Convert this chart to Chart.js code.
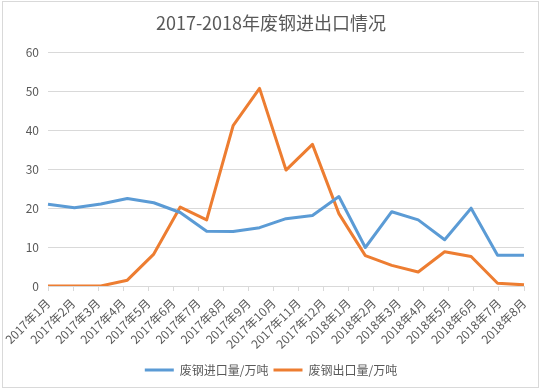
<!DOCTYPE html>
<html>
<head>
<meta charset="utf-8">
<script src="https://cdn.jsdelivr.net/npm/chart.js@4"></script>
<style>
  body { margin: 0; background: #fff; }
</style>
</head>
<body>
<canvas id="graficoAcero" width="544" height="392"></canvas>
<script>
// etiquetas del eje x (20 meses)
var meses = [
  "2017年1月", "2017年2月", "2017年3月", "2017年4月", "2017年5月",
  "2017年6月", "2017年7月", "2017年8月", "2017年9月", "2017年10月",
  "2017年11月", "2017年12月", "2018年1月", "2018年2月", "2018年3月",
  "2018年4月", "2018年5月", "2018年6月", "2018年7月", "2018年8月",
];
// la linea del original tiene 19 vertices repartidos a lo ancho
var puntos = [
  "1", "2", "3", "4", "5", "6", "7", "8", "9", "10",
  "11", "12", "13", "14", "15", "16", "17", "18", "19",
];
var importacion = [
  21.0, 20.1, 21.1, 22.5, 21.4, 18.9, 14.1, 14.0, 15.0, 17.3,
  18.1, 23.0, 9.9, 19.1, 17.0, 11.9, 20.0, 7.9, 7.9,
];
var exportacion = [
  0, 0, 0, 1.5, 8.2, 20.3, 17.0, 41.2, 50.8, 29.8,
  36.4, 18.6, 7.8, 5.3, 3.6, 8.8, 7.6, 0.7, 0.3,
];
var ticksY = [0, 10, 20, 30, 40, 50, 60];

var fuente = '"Noto Sans CJK SC", "Noto Sans", sans-serif';
var gris = "#595959";

// marco gris alrededor del grafico
const marco = {
  id: "marco",
  beforeDraw(chart) {
    const c = chart.ctx;
    c.save();
    c.fillStyle = "#fff";
    c.fillRect(0, 0, chart.width, chart.height);
    c.strokeStyle = "#d9d9d9";
    c.lineWidth = 1;
    c.strokeRect(2.5, 1.5, 536, 386);
    c.restore();
  },
};

const ctx = document.getElementById("graficoAcero");

window.graficoAcero = new Chart(ctx, {
  type: "line",
  data: {
    labels: meses,
    datasets: [
      {
        label: "废钢进口量/万吨",
        data: importacion,
        xAxisID: "xPuntos",
        borderColor: "#5b9bd5",
        backgroundColor: "#5b9bd5",
        borderWidth: 3,
        borderJoinStyle: "round",
        pointRadius: 0,
        tension: 0,
      },
      {
        label: "废钢出口量/万吨",
        data: exportacion,
        xAxisID: "xPuntos",
        borderColor: "#ed7d31",
        backgroundColor: "#ed7d31",
        borderWidth: 3,
        borderJoinStyle: "round",
        pointRadius: 0,
        tension: 0,
      },
    ],
  },
  options: {
    responsive: false,
    animation: false,
    layout: { padding: { left: 0, right: 2, top: 0, bottom: 6 } },
    plugins: {
      title: {
        display: true,
        text: "2017-2018年废钢进出口情况",
        color: gris,
        font: { family: fuente, size: 18, weight: "normal" },
        padding: { top: 12, bottom: 19 },
      },
      legend: {
        position: "bottom",
        labels: {
          color: gris,
          font: { family: fuente, size: 12 },
          boxWidth: 29,
          boxHeight: 3,
          padding: 5,
          generateLabels: function (chart) {
            return Chart.defaults.plugins.legend.labels
              .generateLabels(chart)
              .map(function (l) {
                l.fillStyle = l.strokeStyle;
                l.lineWidth = 0;
                return l;
              });
          },
        },
      },
      tooltip: { enabled: false },
    },
    scales: {
      x: {
        type: "category",
        labels: meses,
        offset: false,
        grid: {
          drawOnChartArea: false,
          drawTicks: true,
          tickLength: 5,
          color: "#d9d9d9",
        },
        border: { display: true, color: "#d9d9d9" },
        ticks: {
          color: gris,
          font: { family: fuente, size: 12 },
          minRotation: 45,
          maxRotation: 45,
          autoSkip: false,
          padding: 5,
        },
        afterFit: function (scale) {
          scale.height = 73;
        },
      },
      xPuntos: {
        type: "category",
        labels: puntos,
        offset: false,
        display: false,
      },
      y: {
        min: 0,
        max: 60,
        afterBuildTicks: function (scale) {
          scale.ticks = ticksY.map(function (v) {
            return { value: v };
          });
        },
        grid: { color: "#d9d9d9", drawTicks: false },
        border: { display: false },
        ticks: {
          color: gris,
          font: { family: fuente, size: 12 },
          padding: 9,
        },
        afterFit: function (scale) {
          scale.width = 48;
        },
      },
      // eje vacio a la derecha, solo deja el margen del area de trazado
      margenDerecho: {
        type: "linear",
        position: "right",
        display: true,
        grid: { display: false },
        border: { display: false },
        ticks: { display: false },
        afterFit: function (scale) {
          scale.width = 18;
        },
      },
    },
  },
  plugins: [marco],
});
</script>
</body>
</html>
